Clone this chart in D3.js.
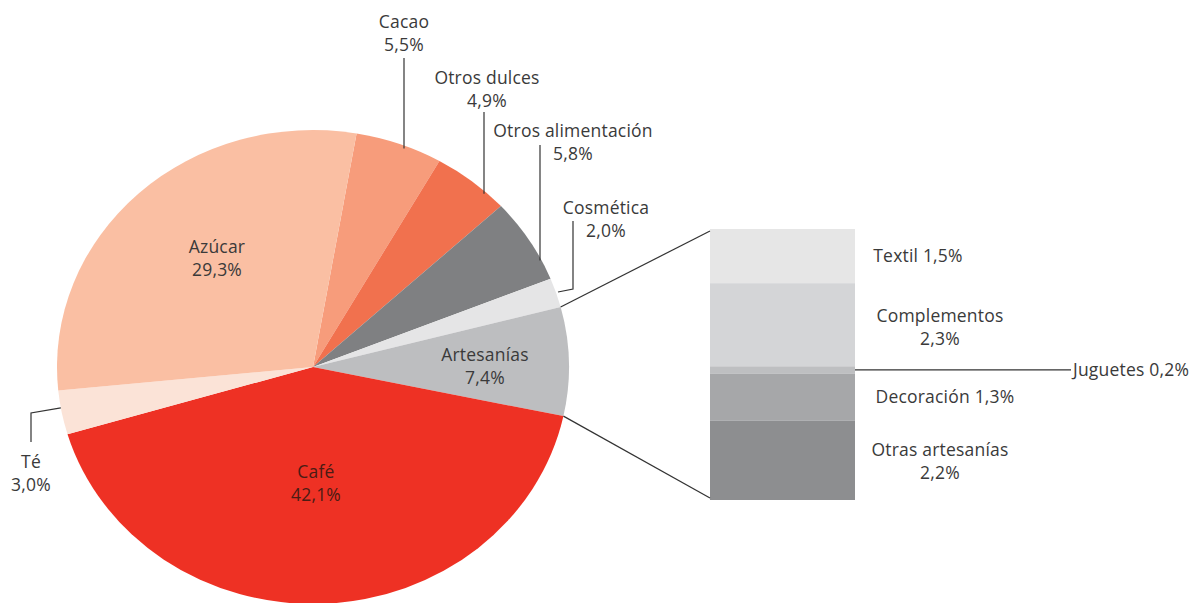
<html>
<head>
<meta charset="utf-8">
<script src="https://d3js.org/d3.v7.min.js"></script>
<style>
  body { margin: 0; background: #fff; }
  text { font-family: "Open Sans", sans-serif; font-size: 17.5px; letter-spacing: 0.2px; fill: #3a3a3a; }
</style>
</head>
<body>
<script>
// pie slices, clockwise starting after Azúcar
var categories = ["Cacao", "Otros dulces", "Otros alimentación", "Cosmética", "Artesanías", "Café", "Té", "Azúcar"];
var shares = [5.5, 4.9, 5.8, 2.0, 7.4, 42.1, 3.0, 29.3];
var shareLabels = ["5,5%", "4,9%", "5,8%", "2,0%", "7,4%", "42,1%", "3,0%", "29,3%"];
var colors = ["#f79c7b", "#f1714e", "#7f8082", "#e5e5e6", "#bdbec0", "#ee3124", "#fbe3d7", "#fabfa3"];

// breakdown of Artesanías
var subCategories = ["Textil", "Complementos", "Juguetes", "Decoración", "Otras artesanías"];
var subShares = [1.5, 2.3, 0.2, 1.3, 2.2];
var subLabels = ["1,5%", "2,3%", "0,2%", "1,3%", "2,2%"];
var subColors = ["#e6e6e6", "#d4d5d7", "#bebfc1", "#a6a7a9", "#8d8e90"];

var W = 1198, H = 603;
var cx = 313, cy = 367, rx = 256, ry = 237;

var svg = d3.select("body").append("svg")
    .attr("width", W)
    .attr("height", H);

var data = categories.map(function(c, i){ return {name: c, value: shares[i], label: shareLabels[i], color: colors[i]}; });

var startA = 9.8 * Math.PI / 180;
var pie = d3.pie().sort(null).value(function(d){ return d.value; })
    .startAngle(startA).endAngle(startA + 2 * Math.PI);
var arcs = pie(data);

var arc = d3.arc().innerRadius(0).outerRadius(rx);

var pieG = svg.append("g")
    .attr("transform", "translate(" + cx + "," + cy + ") scale(1," + (ry / rx) + ")");

pieG.selectAll("path").data(arcs).enter()
    .append("path")
    .attr("d", arc)
    .attr("fill", function(d){ return d.data.color; });

function edge(a){ return [cx + rx * Math.sin(a), cy - ry * Math.cos(a)]; }
function edgeY(x){ var t = (x - cx) / rx; return cy - ry * Math.sqrt(1 - t * t); }
function byName(n){ return arcs[categories.indexOf(n)]; }

// two-line label
function label(x, y, a, b, fill){
  var t = svg.append("text").attr("text-anchor", "middle");
  if (fill) t.style("fill", fill);
  t.append("tspan").attr("x", x).attr("y", y).attr("dy", "0.35em").text(a);
  if (b) t.append("tspan").attr("x", x).attr("y", y + 23).attr("dy", "0.35em").text(b);
}

// labels inside the pie
label(217, 247, "Azúcar", byName("Azúcar").data.label);
label(316, 472, "Café", byName("Café").data.label, "#4a1c14");
label(485, 355, "Artesanías", byName("Artesanías").data.label);

var line = d3.line();
function leader(pts){
  svg.append("path").attr("d", line(pts))
    .attr("fill", "none").attr("stroke", "#333").attr("stroke-width", 1.2);
}

// outside labels with vertical leaders
var outside = [
  {name: "Cacao", x: 404, y: 22, lx: 404, ly: 58},
  {name: "Otros dulces", x: 487, y: 78, lx: 484, ly: 112},
  {name: "Otros alimentación", x: 573, y: 131, lx: 540, ly: 145}
];
outside.forEach(function(o){
  var d = byName(o.name);
  label(o.x, o.y, o.name, d.data.label);
  leader([[o.lx, o.ly], [o.lx, edgeY(o.lx) + 3]]);
});

label(606, 208, "Cosmética", byName("Cosmética").data.label);
leader([[573, 221], [573, 289], [558, 292]]);

label(31, 462, "Té", byName("Té").data.label);
var te = byName("Té");
leader([[31, 442], [31, 413], edge((te.startAngle + te.endAngle) / 2 + 0.02)]);

// stacked bar for Artesanías
var bx0 = 710, bx1 = 855, by0 = 229, by1 = 500;
var total = d3.sum(subShares);
var y = d3.scaleLinear().domain([0, total]).range([by0, by1]);
var cum = 0;
var segs = subCategories.map(function(c, i){
  var s = {name: c, value: subShares[i], label: subLabels[i], color: subColors[i], y0: cum};
  cum += subShares[i]; s.y1 = cum;
  return s;
});

svg.selectAll("rect.seg").data(segs).enter()
  .append("rect").attr("class", "seg")
  .attr("x", bx0).attr("width", bx1 - bx0)
  .attr("y", function(d){ return y(d.y0); })
  .attr("height", function(d){ return y(d.y1) - y(d.y0); })
  .attr("fill", function(d){ return d.color; });

// connectors from the Artesanías slice
var art = byName("Artesanías");
leader([edge(art.startAngle), [bx0, by0 + 2]]);
leader([edge(art.endAngle), [bx0, by1 - 2]]);

// bar labels
label(918, 256, "Textil " + segs[0].label);
label(940, 316, "Complementos", segs[1].label);
label(945, 397, "Decoración " + segs[3].label);
label(940, 450, "Otras artesanías", segs[4].label);

var jy = (y(segs[2].y0) + y(segs[2].y1)) / 2;
leader([[bx1, jy], [1071, jy]]);
svg.append("text").attr("x", 1073).attr("y", jy).attr("dy", "0.35em")
  .text("Juguetes " + segs[2].label);
</script>
</body>
</html>
